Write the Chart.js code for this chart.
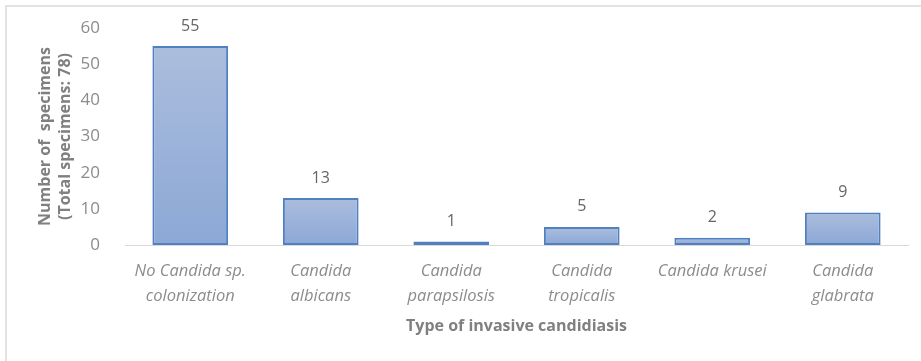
<!DOCTYPE html>
<html>
<head>
<meta charset="utf-8">
<script src="https://cdn.jsdelivr.net/npm/chart.js@4"></script>
<style>
  html, body { margin: 0; padding: 0; background: #fff; }
  #wrap { position: relative; width: 921px; height: 361px; overflow: hidden; }
  #frame { position: absolute; left: 5px; top: 5px; width: 940px; height: 380px;
           border: 2px solid #e3e3e3; box-sizing: border-box; }
  canvas { position: absolute; left: 0; top: 0; }
</style>
</head>
<body>
<div id="wrap">
  <div id="frame"></div>
  <canvas id="c" width="921" height="361"></canvas>
</div>
<script>
// Specimen counts by type of invasive candidiasis
const categories = [
  ["No Candida sp.", "colonization"],
  ["Candida", "albicans"],
  ["Candida", "parapsilosis"],
  ["Candida", "tropicalis"],
  ["Candida krusei"],
  ["Candida", "glabrata"]
];
const specimenCounts = [55, 13, 1, 5, 2, 9];
const yTickValues = [0, 10, 20, 30, 40, 50, 60];
const yTitle = ["Number of  specimens", "(Total specimens: 78)"];
const xTitle = "Type of invasive candidiasis";

const FONT = "'Open Sans', sans-serif";
const GREY = "#8c8c8c";

// Per-bar vertical gradient (lighter top, deeper bottom)
function barFill(ctx) {
  const chart = ctx.chart;
  const area = chart.chartArea;
  if (!area || ctx.raw === undefined) return "#9fb5db";
  const y = chart.scales.y;
  const top = y.getPixelForValue(ctx.raw);
  const bottom = y.getPixelForValue(0);
  if (!(bottom > top)) return "#9fb5db";
  const g = chart.ctx.createLinearGradient(0, top, 0, bottom);
  g.addColorStop(0, "#abbddd");
  g.addColorStop(1, "#8ca8d6");
  return g;
}

// Value labels above each bar
const valueLabels = {
  id: "valueLabels",
  afterDatasetsDraw(chart) {
    const ctx = chart.ctx;
    const meta = chart.getDatasetMeta(0);
    ctx.save();
    ctx.font = "16px " + FONT;
    ctx.fillStyle = "#666666";
    ctx.textAlign = "center";
    ctx.textBaseline = "middle";
    meta.data.forEach((bar, i) => {
      ctx.fillText(String(chart.data.datasets[0].data[i]), bar.x, bar.y - 20);
    });
    ctx.restore();
  }
};

new Chart(document.getElementById("c"), {
  type: "bar",
  data: {
    labels: categories,
    datasets: [{
      data: specimenCounts,
      backgroundColor: barFill,
      borderColor: "#5080c0",
      borderWidth: 2,
      borderSkipped: false,
      barPercentage: 0.58,
      categoryPercentage: 1.0
    }]
  },
  options: {
    responsive: false,
    animation: false,
    events: [],
    layout: { padding: { top: 28, right: 13, bottom: 0, left: 0 } },
    plugins: { legend: { display: false }, tooltip: { enabled: false } },
    scales: {
      x: {
        grid: { display: false },
        border: { display: true, color: "#d9d9d9", width: 1 },
        ticks: {
          color: GREY,
          font: { family: FONT, size: 16.5, style: "italic", lineHeight: 1.5 },
          padding: 6,
          maxRotation: 0,
          autoSkip: false
        },
        title: {
          display: true,
          text: xTitle,
          color: "#808080",
          font: { family: FONT, size: 16, weight: "bold" },
          padding: { top: 4, bottom: 25 }
        },
        afterFit(scale) { scale.height = 116; }
      },
      y: {
        min: 0,
        max: 60,
        afterBuildTicks(scale) { scale.ticks = yTickValues.map(v => ({ value: v })); },
        grid: { display: false },
        border: { display: false },
        ticks: {
          color: GREY,
          font: { family: FONT, size: 17 },
          padding: 17
        },
        title: {
          display: true,
          text: yTitle,
          color: "#808080",
          font: { family: FONT, size: 16, weight: "bold", lineHeight: 1.25 },
          padding: { top: 35, bottom: 10 }
        },
        afterFit(scale) { scale.width = 125; }
      }
    }
  },
  plugins: [valueLabels]
});
</script>
</body>
</html>
